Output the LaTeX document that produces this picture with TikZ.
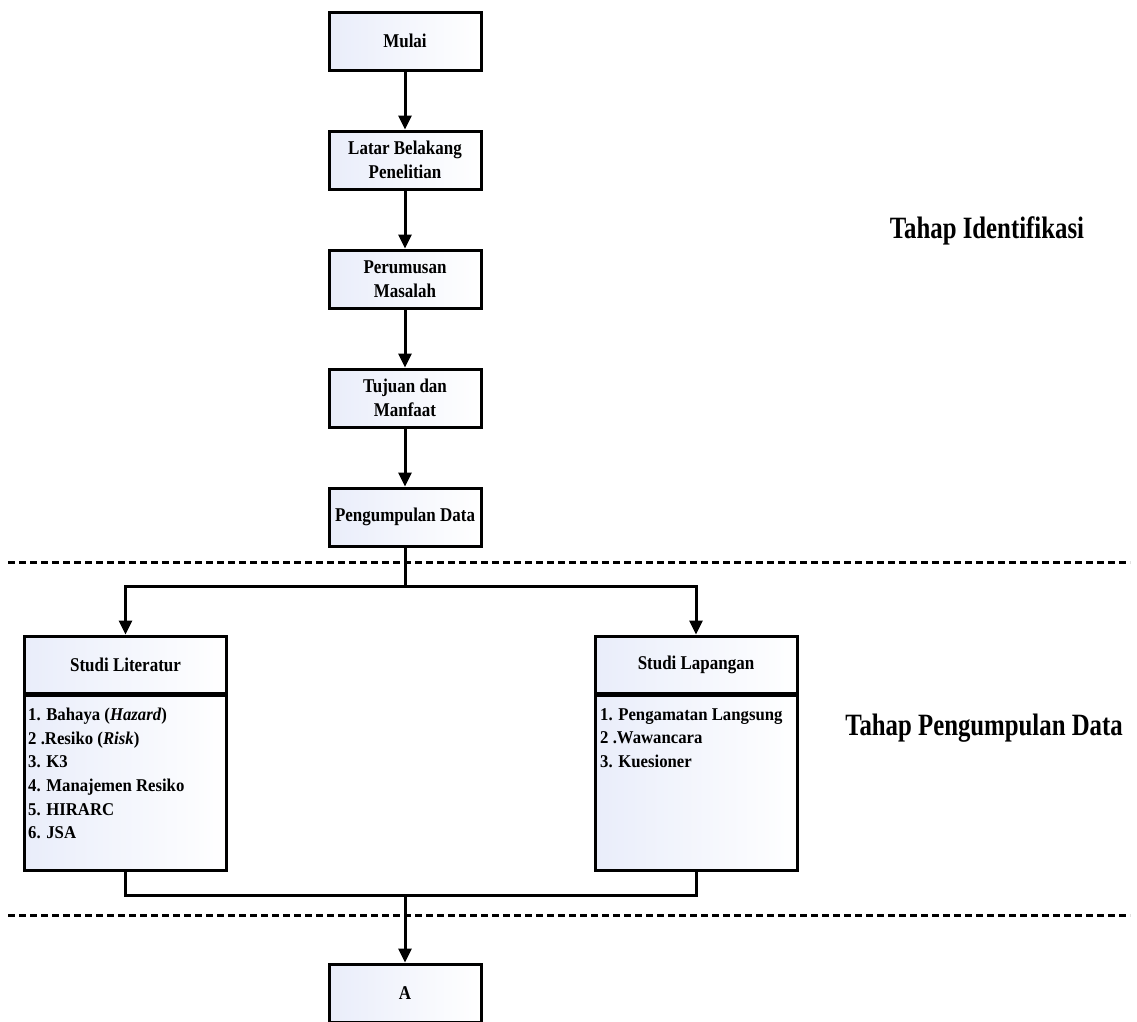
\documentclass[tikz,border=0pt]{standalone}
\usepackage{fontspec}
\setmainfont{Liberation Serif}
\newfontfamily\boxfont[FakeStretch=0.87]{Liberation Serif}
\newfontfamily\listfont[FakeStretch=0.93]{Liberation Serif}
\newfontfamily\stagefont[FakeStretch=0.80]{Liberation Serif}
\usetikzlibrary{arrows.meta}
\definecolor{boxblue}{RGB}{233,237,250}
\tikzset{
  box/.style={draw=black, line width=3pt, left color=boxblue, right color=white,
    minimum width=152pt, minimum height=58pt, inner sep=2pt, align=center,
    font=\boxfont\bfseries\fontsize{19.5}{24}\selectfont},
  sidebox/.style={box, minimum width=202pt},
  conn/.style={line width=3pt},
  arr/.style={conn, -{Triangle[width=13pt,length=14pt]}},
  sep/.style={line width=3pt, dash pattern=on 7pt off 4pt},
  stage/.style={font=\stagefont\bfseries\fontsize{31}{34}\selectfont},
  listtxt/.style={anchor=north west, inner sep=0pt, align=left,
    font=\listfont\bfseries\fontsize{18}{23.6}\selectfont}
}
\begin{document}
\begin{tikzpicture}[x=1pt, y=-1pt]
\useasboundingbox (0,0) rectangle (1137,1021);
\clip (0,0) rectangle (1137,1021);

% main chain
\node[box] (mulai) at (405,41) {Mulai};
\node[box] (latar) at (405,160) {Latar Belakang\\Penelitian};
\node[box] (rumus) at (405,279) {Perumusan\\Masalah};
\node[box] (tujuan) at (405,398) {Tujuan dan\\Manfaat};
\node[box] (data) at (405,517) {Pengumpulan Data};
\node[box] (A) at (405,993) {A};

% side boxes
\node[sidebox, minimum height=57pt] (litH) at (125.5,664.5) {Studi Literatur};
\node[sidebox, minimum height=175pt] (litB) at (125.5,783) {};
\node[sidebox, minimum height=57pt] (lapH) at (696,664.5) {Studi Lapangan};
\node[sidebox, minimum height=175pt] (lapB) at (696,783) {};

\node[listtxt] (litT) at (28,708) {1. Bahaya (\textit{Hazard})\\2 .Resiko (\textit{Risk})\\3. K3\\4. Manajemen Resiko\\5. HIRARC\\6. JSA};
\node[listtxt] (lapT) at (600,708) {1. Pengamatan Langsung\\2 .Wawancara\\3. Kuesioner};

% stage labels
\node[stage] (st1) at (987,231) {Tahap Identifikasi};
\node[stage] (st2) at (984,728) {Tahap Pengumpulan Data};

% separators
\coordinate (s1a) at (8,562);
\coordinate (s1b) at (1130,562);
\coordinate (s2a) at (8,915);
\coordinate (s2b) at (1130,915);
\draw[sep] (s1a) -- (s1b);
\draw[sep] (s2a) -- (s2b);

% connectors
\draw[arr] (mulai) -- (latar);
\draw[arr] (latar) -- (rumus);
\draw[arr] (rumus) -- (tujuan);
\draw[arr] (tujuan) -- (data);

\coordinate (split) at (405,586);
\draw[conn] (data.south) -- (split);
\draw[arr] (split) -| (litH.north);
\draw[arr] (split) -| (lapH.north);

\coordinate (join) at (405,895);
\draw[conn] (litB.south) |- (join) -| (lapB.south);
\draw[arr] (join) -- (A.north);
\end{tikzpicture}
\end{document}
